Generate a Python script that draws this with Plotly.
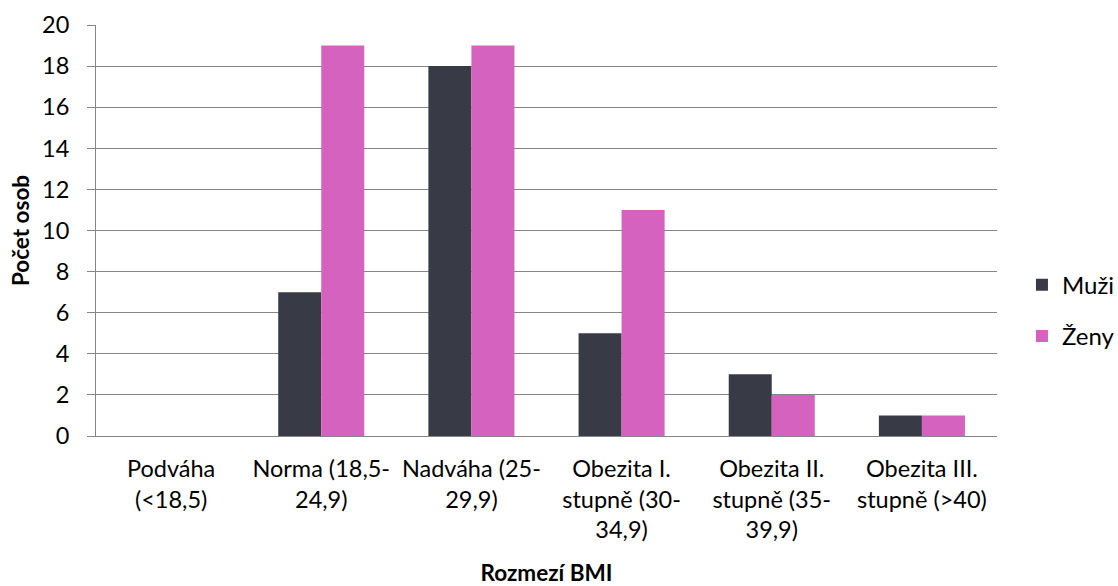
import plotly.graph_objects as go

categories = ["Podváha<br>(<18,5)", "Norma (18,5-<br>24,9)", "Nadváha (25-<br>29,9)",
              "Obezita I.<br>stupně (30-<br>34,9)", "Obezita II.<br>stupně (35-<br>39,9)",
              "Obezita III.<br>stupně (>40)"]
muzi = [0, 7, 18, 5, 3, 1]
zeny = [0, 19, 19, 11, 2, 1]
y_ticks = list(range(0, 21, 2))

FONT = "Lato"
FS = 23.5
fig = go.Figure()
fig.add_trace(go.Bar(x=categories, y=muzi, name="Muži", marker_color="#383B46",
                     marker_line_width=0, legendgroup="m"))
fig.add_trace(go.Bar(x=categories, y=zeny, name="Ženy", marker_color="#D462BE",
                     marker_line_width=0, legendgroup="z"))

fig.update_layout(
    width=1118, height=586,
    margin=dict(l=96, r=121, t=25, b=150, autoexpand=False),
    plot_bgcolor="white", paper_bgcolor="white",
    barmode="group", bargap=0.427, bargroupgap=0,
    font=dict(family=FONT, size=FS, color="#000000"),
    legend=dict(x=1.0277, y=0.305, xanchor="left", yanchor="middle",
                font=dict(size=24), itemwidth=30, traceorder="grouped",
                tracegroupgap=17),
    xaxis=dict(
        title=dict(text="<b>Rozmezí BMI</b>", font=dict(size=22.5), standoff=26),
        showline=True, linecolor="#868686", linewidth=1, automargin=False,
        ticks="outside", ticklen=0, tickfont=dict(size=FS), ticklabelstandoff=12,
    ),
    yaxis=dict(
        title=dict(text="<b>Počet osob</b>", font=dict(size=22.5), standoff=6),
        range=[0, 20], tickvals=y_ticks, showline=True, linecolor="#868686", linewidth=1,
        gridcolor="#868686", gridwidth=1, ticks="outside", ticklen=8, tickcolor="#868686",
        tickfont=dict(size=FS), zeroline=False, ticklabelstandoff=13, automargin=False,
    ),
)
fig.write_html("out.html")
